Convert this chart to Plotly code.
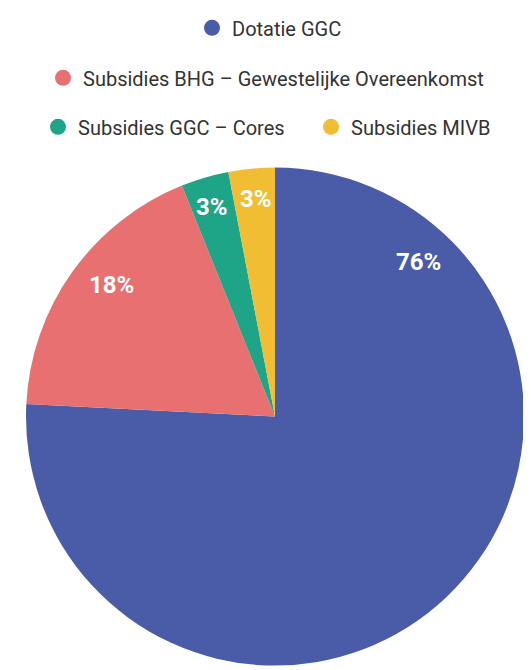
import math
import plotly.graph_objects as go

# page body margin: the figure is drawn offset from the page corner
OFFX, OFFY = 8, 10
W, H = 531 - OFFX, 670 - OFFY

labels = ["Dotatie GGC", "Subsidies BHG – Gewestelijke Overeenkomst",
          "Subsidies GGC – Cores", "Subsidies MIVB"]
values = [75.8, 18.1, 3.1, 3.0]
colors = ["#4a5ca8", "#e87070", "#1ea486", "#f0bd33"]
legend_ids = ["legend", "legend2", "legend3", "legend4"]
label_pos_frac = [0.155, 0.56, 0.5, 0.555]   # clockwise fraction along each slice
label_r_frac = [0.837, 0.833, 0.878, 0.877]  # label distance from centre / radius

# pie geometry (page pixels -> figure coords)
cx, cy, R = 275 - OFFX, 413.5 - OFFY, 254
dom_x = [max(0, (cx - R) / W), min(1, (cx + R) / W)]
dom_y = [max(0, 1 - (cy + R) / H), min(1, 1 - (cy - R) / H)]

fig = go.Figure()
fig.add_trace(go.Pie(
    labels=labels, values=values, sort=False, direction="clockwise",
    rotation=0, marker=dict(colors=colors, line=dict(width=0)),
    textinfo="none", hoverinfo="label+percent", showlegend=False,
    domain=dict(x=dom_x, y=dom_y),
))

for lab, col, lg in zip(labels, colors, legend_ids):
    fig.add_trace(go.Scatter(
        x=[None], y=[None], mode="markers", name=lab,
        marker=dict(color=col, size=20, symbol="circle"),
        legend=lg, showlegend=True, hoverinfo="skip",
    ))

total = sum(values)
start = 0.0
for v, f, rf in zip(values, label_pos_frac, label_r_frac):
    ang = (start + v * f) / total * 2 * math.pi
    start += v
    rr = rf * R
    px = cx + rr * math.sin(ang)
    py = cy - rr * math.cos(ang)
    fig.add_annotation(
        x=px / W, y=1 - py / H, xref="paper", yref="paper",
        xanchor="center", yanchor="middle",
        text=f"{round(v / total * 100)}%", showarrow=False,
        font=dict(family="Roboto", size=24, color="white", weight="bold"),
    )

leg_common = dict(orientation="h", xanchor="left", yanchor="middle",
                  font=dict(family="Roboto", size=20, color="#333333"),
                  bgcolor="rgba(0,0,0,0)", itemclick=False, itemdoubleclick=False)

# legend symbol centres (page px) and row centres (page px)
leg_sym_x = [212, 63, 58, 331]
leg_row_y = [17, 68, 118, 118]

legends = {}
for lg, sx, ry in zip(legend_ids, leg_sym_x, leg_row_y):
    legends[lg] = dict(x=(sx - 20 - OFFX) / W, y=1 - (ry - OFFY) / H, **leg_common)

fig.update_layout(
    width=W, height=H, margin=dict(l=0, r=0, t=0, b=0),
    paper_bgcolor="white", plot_bgcolor="white",
    xaxis=dict(visible=False), yaxis=dict(visible=False),
    **legends,
)

fig.write_html("out.html")
